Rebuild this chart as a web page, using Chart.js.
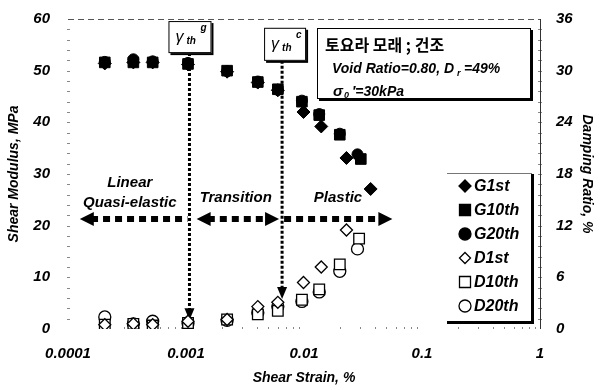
<!DOCTYPE html>
<html><head><meta charset="utf-8">
<script src="https://cdn.jsdelivr.net/npm/chart.js@4.4.0/dist/chart.umd.min.js"></script>
<style>html,body{margin:0;padding:0;background:#fff}canvas{display:block}</style>
</head><body>
<canvas id="c" width="601" height="390"></canvas>
<script>
// shear strain (%) per series
const strainG1 = [0.000205, 0.000358, 0.000522, 0.00104, 0.00223, 0.00406, 0.0060, 0.0099, 0.0140, 0.0229, 0.0367];
const strainG10 = [0.000205, 0.000358, 0.000522, 0.00104, 0.00223, 0.00406, 0.0060, 0.0096, 0.01346, 0.0201, 0.0303];
const strainG20 = [0.000205, 0.000358, 0.000522, 0.00104, 0.00223, 0.00406, 0.0060, 0.0096, 0.01346, 0.0201, 0.0284];
const strainD1 = [0.000205, 0.000358, 0.000522, 0.00104, 0.00223, 0.00406, 0.0060, 0.0099, 0.0140, 0.0229];
const strainD10 = [0.000205, 0.000358, 0.000522, 0.00104, 0.00223, 0.00406, 0.0060, 0.0096, 0.01346, 0.0201, 0.0293];
const strainD20 = [0.000205, 0.000358, 0.000522, 0.00104, 0.00223, 0.00406, 0.0060, 0.0096, 0.01346, 0.0201, 0.0284];

// shear modulus (MPa)
const G1st = [51.4, 51.6, 51.6, 51.2, 49.8, 47.7, 46.2, 42.0, 39.2, 33.1, 27.1];
const G10th = [51.6, 51.6, 51.6, 51.3, 50.0, 47.8, 46.4, 44.0, 41.4, 37.6, 32.9];
const G20th = [51.7, 52.2, 51.8, 51.5, 49.9, 47.9, 46.3, 44.2, 41.6, 37.8, 33.8];

// damping ratio (%)
const D1st = [0.5, 0.6, 0.5, 0.9, 1.1, 2.6, 3.1, 5.4, 7.2, 11.5];
const D10th = [0.5, 0.6, 0.4, 0.7, 1.1, 1.7, 2.1, 3.4, 4.6, 7.5, 10.5];
const D20th = [1.4, 0.6, 0.9, 0.7, 1.0, 1.9, 2.6, 3.2, 4.3, 6.7, 9.3];

const xTicks = [0.0001, 0.001, 0.01, 0.1, 1];
const xTickLabels = ['0.0001', '0.001', '0.01', '0.1', '1'];

// threshold strains
const gammaG = 0.00107;
const gammaC = 0.00652;

const FONT = '"Liberation Sans", Arial, sans-serif';
const bi = (s) => `italic bold ${s}px ${FONT}`;

function pts(xs, ys) {
    return xs.map((x, i) => ({ x: x, y: ys[i] }));
}

function marker(ctx, style, x, y, r, filled) {
    ctx.save();
    ctx.beginPath();
    if (style === 'circle') {
        ctx.arc(x, y, r, 0, Math.PI * 2);
    } else if (style === 'rect') {
        ctx.rect(x - r, y - r, 2 * r, 2 * r);
    } else {
        ctx.moveTo(x, y - r); ctx.lineTo(x + r, y); ctx.lineTo(x, y + r); ctx.lineTo(x - r, y); ctx.closePath();
    }
    ctx.fillStyle = filled ? '#000' : '#fff';
    ctx.fill();
    ctx.lineWidth = 1.3;
    ctx.strokeStyle = '#000';
    ctx.stroke();
    ctx.restore();
}

function hArrow(ctx, x0, x1, y, headAt) {
    // dotted thick arrow, headAt: 'start' | 'end' | 'both'
    const hl = 14, hh = 7;
    let a = x0, b = x1;
    if (headAt === 'start' || headAt === 'both') a = x0 + hl * 0.8;
    if (headAt === 'end' || headAt === 'both') b = x1 - hl * 0.8;
    ctx.save();
    ctx.strokeStyle = '#000';
    ctx.lineWidth = 6;
    ctx.setLineDash([7, 5]);
    ctx.beginPath(); ctx.moveTo(a, y); ctx.lineTo(b, y); ctx.stroke();
    ctx.setLineDash([]);
    ctx.fillStyle = '#000';
    if (headAt === 'start' || headAt === 'both') {
        ctx.beginPath(); ctx.moveTo(x0, y); ctx.lineTo(x0 + hl, y - hh); ctx.lineTo(x0 + hl, y + hh); ctx.closePath(); ctx.fill();
    }
    if (headAt === 'end' || headAt === 'both') {
        ctx.beginPath(); ctx.moveTo(x1, y); ctx.lineTo(x1 - hl, y - hh); ctx.lineTo(x1 - hl, y + hh); ctx.closePath(); ctx.fill();
    }
    ctx.restore();
}

function vArrow(ctx, x, y0, y1) {
    ctx.save();
    ctx.strokeStyle = '#000';
    ctx.lineWidth = 3;
    ctx.setLineDash([3, 2]);
    ctx.beginPath(); ctx.moveTo(x, y0); ctx.lineTo(x, y1 - 8); ctx.stroke();
    ctx.setLineDash([]);
    ctx.fillStyle = '#000';
    ctx.beginPath(); ctx.moveTo(x, y1); ctx.lineTo(x - 5, y1 - 12); ctx.lineTo(x + 5, y1 - 12); ctx.closePath(); ctx.fill();
    ctx.restore();
}

function shadowBox(ctx, x0, y0, x1, y1) {
    ctx.save();
    ctx.fillStyle = '#000';
    ctx.fillRect(x0 + 2, y0 + 2, x1 - x0, y1 - y0);
    ctx.fillStyle = '#fff';
    ctx.fillRect(x0, y0, x1 - x0, y1 - y0);
    ctx.strokeStyle = '#000';
    ctx.lineWidth = 1;
    ctx.strokeRect(x0 + 0.5, y0 + 0.5, x1 - x0 - 1, y1 - y0 - 1);
    ctx.restore();
}

function gammaLabel(ctx, cx, cy, sup) {
    ctx.save();
    ctx.fillStyle = '#000';
    ctx.textBaseline = 'alphabetic';
    ctx.textAlign = 'left';
    ctx.font = `italic 16px ${FONT}`;
    ctx.fillText('\u03b3', cx - 14, cy + 5);
    ctx.font = bi(10);
    ctx.fillText('th', cx - 3, cy + 7);
    ctx.fillText(sup, cx + 11, cy - 6);
    ctx.restore();
}

const annotations = {
    id: 'annotations',
    beforeDatasetsDraw(chart) {
        const ctx = chart.ctx;
        const xs = chart.scales.x, ys = chart.scales.y;
        const area = chart.chartArea;
        ctx.save();
        // frame: top dashed, faint minor ticks
        ctx.strokeStyle = '#555';
        ctx.lineWidth = 1;
        ctx.setLineDash([6, 4]);
        ctx.beginPath(); ctx.moveTo(area.left, area.top + 0.5); ctx.lineTo(area.right, area.top + 0.5); ctx.stroke();
        ctx.setLineDash([]);
        ctx.strokeStyle = '#888';
        for (let v = 2; v < 60; v += 2) {
            const py = Math.round(ys.getPixelForValue(v)) + 0.5;
            ctx.beginPath(); ctx.moveTo(area.left - 1, py); ctx.lineTo(area.left + 2, py); ctx.stroke();
            ctx.beginPath(); ctx.moveTo(area.right - 2, py); ctx.lineTo(area.right + 2, py); ctx.stroke();
        }
        for (let d = -4; d < 0; d++) {
            for (let m = 2; m <= 9; m++) {
                const px = Math.round(xs.getPixelForValue(m * Math.pow(10, d))) + 0.5;
                ctx.beginPath(); ctx.moveTo(px, area.bottom - 2); ctx.lineTo(px, area.bottom); ctx.stroke();
            }
        }
        ctx.strokeStyle = '#333';
        ctx.beginPath(); ctx.moveTo(area.right + 0.5, area.top); ctx.lineTo(area.right + 0.5, area.bottom); ctx.stroke();

        // threshold arrows
        const xg = xs.getPixelForValue(gammaG);
        const xc = xs.getPixelForValue(gammaC);
        vArrow(ctx, xg, ys.getPixelForValue(53.4), ys.getPixelForValue(1.7));
        vArrow(ctx, xc, ys.getPixelForValue(51.9), ys.getPixelForValue(5.8));

        // zone arrows
        const yArr = Math.round(ys.getPixelForValue(21.2));
        hArrow(ctx, xs.getPixelForValue(0.000126), xg - 2, yArr, 'start');
        hArrow(ctx, xs.getPixelForValue(0.00123), xc - 3, yArr, 'both');
        hArrow(ctx, xc + 2, xs.getPixelForValue(0.0561), yArr, 'end');

        // zone labels
        ctx.fillStyle = '#000';
        ctx.font = bi(15);
        ctx.textAlign = 'center';
        ctx.textBaseline = 'middle';
        ctx.fillText('Linear', xs.getPixelForValue(0.000334), ys.getPixelForValue(28.3));
        ctx.fillText('Quasi-elastic', xs.getPixelForValue(0.000334), ys.getPixelForValue(24.5));
        ctx.fillText('Transition', xs.getPixelForValue(0.00264), ys.getPixelForValue(25.4));
        ctx.fillText('Plastic', xs.getPixelForValue(0.0194), ys.getPixelForValue(25.3));
        ctx.restore();
    },
    afterDraw(chart) {
        const ctx = chart.ctx;
        const xs = chart.scales.x, ys = chart.scales.y;
        const xg = xs.getPixelForValue(gammaG);
        const xc = xs.getPixelForValue(gammaC);

        // threshold boxes
        shadowBox(ctx, xg - 21, ys.getPixelForValue(59.6), xg + 22, ys.getPixelForValue(53.4));
        gammaLabel(ctx, xg, ys.getPixelForValue(56.5), 'g');
        shadowBox(ctx, xc - 18, ys.getPixelForValue(58.3), xc + 24, ys.getPixelForValue(51.9));
        gammaLabel(ctx, xc + 3, ys.getPixelForValue(55.1), 'c');

        // info box
        ctx.save();
        shadowBox(ctx, 317, 28, 531, 99);
        ctx.fillStyle = '#000';
        ctx.textAlign = 'left';
        ctx.textBaseline = 'alphabetic';
        ctx.font = 'bold 16px "Noto Sans CJK KR", sans-serif';
        ctx.fillText('토요라 모래 ; 건조', 325, 51);
        ctx.font = bi(14);
        let t = 'Void Ratio=0.80, D';
        ctx.fillText(t, 332, 73);
        let w = ctx.measureText(t).width;
        ctx.font = bi(9);
        ctx.fillText('r', 332 + w + 3, 76);
        ctx.font = bi(14);
        ctx.fillText('=49%', 332 + w + 10, 73);
        ctx.font = `italic bold 15px ${FONT}`;
        ctx.fillText('\u03c3', 333, 96);
        ctx.font = bi(9);
        ctx.fillText('0', 344, 98);
        ctx.font = bi(14);
        ctx.fillText('\u2032=30kPa', 352, 96);
        ctx.restore();

        // legend
        ctx.save();
        ctx.strokeStyle = '#777';
        ctx.lineWidth = 1;
        ctx.beginPath(); ctx.moveTo(447, 173.5); ctx.lineTo(532, 173.5); ctx.stroke();
        ctx.fillStyle = '#000';
        ctx.fillRect(531, 174, 3, 150);
        ctx.fillRect(447, 321, 87, 3);
        const items = [
            ['G1st', 'rectRot', true, 6], ['G10th', 'rect', true, 5.5], ['G20th', 'circle', true, 6],
            ['D1st', 'rectRot', false, 5.5], ['D10th', 'rect', false, 5.5], ['D20th', 'circle', false, 6]
        ];
        ctx.font = bi(16);
        ctx.textAlign = 'left';
        ctx.textBaseline = 'middle';
        items.forEach((it, i) => {
            const y = 186 + i * 24;
            marker(ctx, it[1], 465, y, it[3], it[2]);
            ctx.fillStyle = '#000';
            ctx.fillText(it[0], 474, y + 1);
        });
        ctx.restore();
    }
};

const tickFont = { family: FONT, size: 15, weight: 'bold', style: 'italic' };
const titleFont = { family: FONT, size: 14, weight: 'bold', style: 'italic' };

const filled = { backgroundColor: '#000', borderColor: '#000', borderWidth: 1 };
const open = { backgroundColor: '#fff', borderColor: '#000', borderWidth: 1.3 };

function fixV(w) {
    return (s) => { s.width = w; s.paddingTop = 0; s.paddingBottom = 0; };
}

new Chart(document.getElementById('c'), {
    type: 'scatter',
    data: {
        datasets: [
            { label: 'D1st', data: pts(strainD1, D1st), yAxisID: 'y1', pointStyle: 'rectRot', pointRadius: 6, ...open },
            { label: 'D10th', data: pts(strainD10, D10th), yAxisID: 'y1', pointStyle: 'rect', pointRadius: 7.5, ...open },
            { label: 'D20th', data: pts(strainD20, D20th), yAxisID: 'y1', pointStyle: 'circle', pointRadius: 6, ...open },
            { label: 'G10th', data: pts(strainG10, G10th), yAxisID: 'y', pointStyle: 'rect', pointRadius: 7.5, ...filled },
            { label: 'G20th', data: pts(strainG20, G20th), yAxisID: 'y', pointStyle: 'circle', pointRadius: 5.5, ...filled },
            { label: 'G1st', data: pts(strainG1, G1st), yAxisID: 'y', pointStyle: 'rectRot', pointRadius: 6.5, ...filled }
        ]
    },
    options: {
        responsive: false,
        animation: false,
        devicePixelRatio: 1,
        layout: { padding: { top: 19, left: 0, right: 0, bottom: 0 } },
        plugins: { legend: { display: false }, tooltip: { enabled: false } },
        scales: {
            x: {
                type: 'logarithmic',
                min: 0.0001, max: 1,
                afterFit: (s) => { s.height = 61; s.paddingLeft = 0; s.paddingRight = 0; },
                afterBuildTicks: (s) => { s.ticks = xTicks.map(v => ({ value: v })); },
                grid: { display: false, drawTicks: false },
                border: { display: false },
                ticks: {
                    color: '#000', font: tickFont, padding: 16, autoSkip: false, maxRotation: 0,
                    callback: (v) => xTickLabels[xTicks.indexOf(v)] ?? ''
                },
                title: { display: true, text: 'Shear Strain, %', color: '#000', font: titleFont, padding: { top: 0, bottom: 3 } }
            },
            y: {
                position: 'left',
                min: 0, max: 60,
                afterFit: fixV(68),
                grid: { display: false, drawTicks: false },
                border: { display: false },
                ticks: { stepSize: 10, color: '#000', font: tickFont, padding: 18 },
                title: { display: true, text: 'Shear Modulus, MPa', color: '#000', font: titleFont, padding: { top: 6, bottom: 0 } }
            },
            y1: {
                position: 'right',
                min: 0, max: 36,
                afterFit: fixV(61),
                grid: { display: false, drawTicks: false },
                border: { display: false },
                ticks: { stepSize: 6, color: '#000', font: tickFont, padding: 16 },
                title: { display: true, text: 'Damping Ratio, %', color: '#000', font: titleFont, padding: { top: 6, bottom: 0 } }
            }
        }
    },
    plugins: [annotations]
});
</script>
</body></html>
